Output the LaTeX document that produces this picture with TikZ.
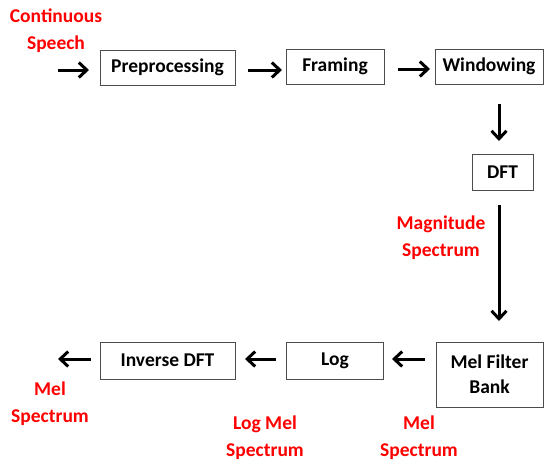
\documentclass[tikz,border=0pt]{standalone}
\usepackage{fontspec}
\setmainfont{Carlito}
\usetikzlibrary{arrows.meta}
\begin{document}
\begin{tikzpicture}[x=1pt,y=-1pt,
  stage/.style={draw=black!70, line width=0.8pt, font=\bfseries\fontsize{19.5}{25}\selectfont,
    inner sep=0pt, align=center},
  lbl/.style={text=red, font=\bfseries\fontsize{19.5}{27}\selectfont, align=center, inner sep=0pt},
  flow/.style={line width=3pt, -{Straight Barb[length=8pt,width=15pt,line width=3pt]}}]
\useasboundingbox (0,0) rectangle (544,466);

% processing stages
\node[stage, minimum width=135pt, minimum height=35pt] (pre) at (167.5,67.5) {Preprocessing};
\node[stage, minimum width=98pt, minimum height=35pt] (frm) at (335,66.5) {Framing};
\node[stage, minimum width=108pt, minimum height=35pt] (win) at (489,66.5) {Windowing};
\node[stage, minimum width=61pt, minimum height=36pt] (dft) at (502.5,172) {DFT};
\node[stage, minimum width=107pt, minimum height=65pt] (mel) at (489.5,374.5) {Mel Filter\\Bank};
\node[stage, minimum width=97pt, minimum height=37pt] (log) at (335,360.5) {Log};
\node[stage, minimum width=135pt, minimum height=37pt] (inv) at (167.5,360.5) {Inverse DFT};

% free ends of the input and output arrows
\coordinate (in) at (58,70);
\coordinate (out) at (58,359);

% signal flow
\draw[flow] (in) -- (89,70);
\draw[flow] (248,70) -- (282,70);
\draw[flow] (398,69) -- (430,69);
\draw[flow] (499,104) -- (499,141);
\draw[flow] (499,205) -- (499,321);
\draw[flow] (425,359) -- (392,359);
\draw[flow] (276,359) -- (245,359);
\draw[flow] (91,359) -- (out);

% signal labels
\node[lbl] (cs) at (56,31) {Continuous\\Speech};
\node[lbl] (ms) at (441,238) {Magnitude\\Spectrum};
\node[lbl] (mso) at (50,404) {Mel\\Spectrum};
\node[lbl] (lms) at (265,438) {Log Mel\\Spectrum};
\node[lbl] (msi) at (419,438) {Mel\\Spectrum};
\end{tikzpicture}
\end{document}
